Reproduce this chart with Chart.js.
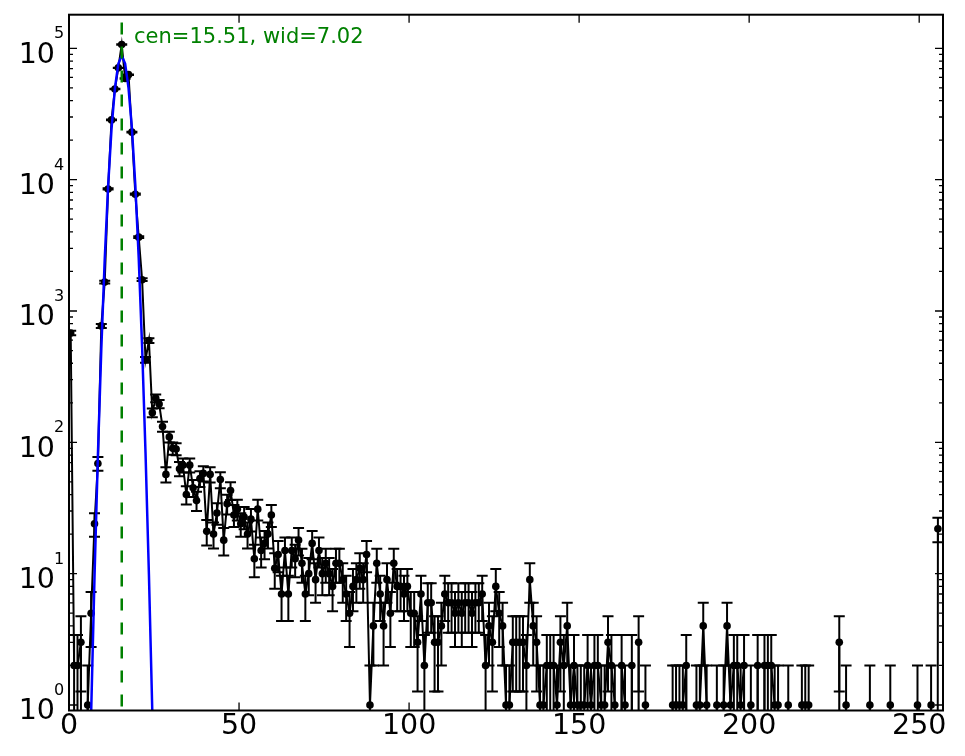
<!DOCTYPE html>
<html>
<head>
<meta charset="utf-8">
<script src="https://cdn.jsdelivr.net/npm/chart.js@4.4.1/dist/chart.umd.min.js"></script>
<style>
html,body{margin:0;padding:0;background:#fff;}
#wrap{width:965px;height:756px;position:relative;}
</style>
</head>
<body>
<div id="wrap"><canvas id="c"></canvas></div>
<script>
// ---- data ----
const binStart = 0;
const binWidth = 1;
const counts = [
  680, 2, 2, 3, 0, 1, 5, 24, 69, 770,
  1660, 8500, 28500, 49000, 71000, 107000, 59000, 63000, 23000, 7750,
  3650, 1730, 425, 596, 168, 217, 196, 132, 57, 110,
  90, 89, 63, 67, 40, 67, 45, 36, 53, 58,
  21, 57, 20, 29, 52, 18, 34, 43, 28, 31,
  24, 27, 20, 26, 13, 31, 15, 17, 20, 28,
  11, 14, 7, 15, 7, 15, 13, 18, 12, 7,
  10, 17, 9, 15, 10, 12, 10, 8, 12, 12,
  9, 7, 5, 8, 9, 11, 9, 14, 1, 4,
  12, 7, 4, 9, 5, 12, 8, 8, 7, 8,
  5, 5, 3, 7, 2, 6, 6, 3, 3, 4,
  7, 6, 6, 5, 6, 5, 6, 6, 5, 6,
  6, 7, 2, 4, 3, 8, 5, 4, 1, 1,
  3, 3, 3, 3, 2, 9, 4, 3, 1, 1,
  2, 2, 2, 1, 3, 2, 4, 1, 2, 1,
  1, 1, 2, 1, 2, 2, 1, 1, 3, 2,
  1, 0, 2, 1, 0, 2, 0, 3, 0, 1,
  0, 0, 0, 0, 0, 0, 0, 1, 1, 1,
  1, 2, 0, 0, 1, 1, 4, 1, 0, 0,
  1, 0, 1, 4, 1, 2, 2, 1, 2, 0,
  1, 0, 2, 0, 2, 2, 2, 1, 1, 0,
  0, 1, 0, 0, 0, 1, 1, 1, 0, 0,
  0, 0, 0, 0, 0, 0, 3, 0, 1, 0,
  0, 0, 0, 0, 0, 1, 0, 0, 0, 0,
  0, 1, 0, 0, 0, 0, 0, 0, 0, 1,
  0, 0, 0, 1, 0, 22
];
// Gaussian fit curve as drawn (bins 5..25)
const fitStartBin = 5;
const fitValues = [
  0.056, 0.84, 9.4, 80, 513, 2463, 8904, 24210, 49490, 76100,
  88000, 76530, 50060, 24630, 9110, 2535, 531, 83.5, 9.9, 0.88, 0.059
];
const fitCen = 15.51;
const fitWid = 7.02;
const xTicks = [0, 50, 100, 150, 200, 250];
const yDecades = [0, 1, 2, 3, 4, 5];
const xMin = 0, xMax = 257;
const yMin = 0.908, yMax = 180300;

// ---- derived structures ----
const CLIP_LOW = 1e-30; // empty bins fall off the bottom of the log axis
const binCenters = counts.map((_, i) => binStart + (i + 0.5) * binWidth);
const errors = counts.map(v => Math.sqrt(v));
const dataPoints = counts.map((v, i) => ({x: binCenters[i], y: v > 0 ? v : CLIP_LOW}));
const fitPoints = fitValues.map((v, k) => ({x: binCenters[fitStartBin + k], y: v}));
const cenLine = [{x: fitCen, y: yMin}, {x: fitCen, y: yMax}];

const FONT = 'DejaVu Sans';

const errorBarPlugin = {
  id: 'errorBars',
  beforeDatasetsDraw(chart) {
    const {ctx, chartArea: a, scales: {x, y}} = chart;
    ctx.save();
    ctx.beginPath();
    ctx.rect(a.left, a.top, a.right - a.left, a.bottom - a.top);
    ctx.clip();
    ctx.strokeStyle = '#000';
    ctx.lineWidth = 2;
    const cap = 5.5;
    counts.forEach((v, i) => {
      if (v <= 0) return;
      const e = errors[i];
      const px = x.getPixelForValue(binCenters[i]);
      const lo = v - e > 0 ? v - e : CLIP_LOW;
      const pLo = y.getPixelForValue(lo);
      const pHi = y.getPixelForValue(v + e);
      ctx.beginPath();
      ctx.moveTo(px, pLo); ctx.lineTo(px, pHi);
      ctx.moveTo(px - cap, pLo); ctx.lineTo(px + cap, pLo);
      ctx.moveTo(px - cap, pHi); ctx.lineTo(px + cap, pHi);
      ctx.stroke();
    });
    ctx.restore();
  }
};

const framePlugin = {
  id: 'frame',
  afterDatasetsDraw(chart) {
    const {ctx, chartArea: a, scales: {x, y}} = chart;
    ctx.save();
    ctx.strokeStyle = '#000';
    ctx.lineWidth = 1.3;
    ctx.beginPath();
    xTicks.forEach(v => {
      const p = x.getPixelForValue(v);
      ctx.moveTo(p, a.bottom); ctx.lineTo(p, a.bottom - 8);
      ctx.moveTo(p, a.top); ctx.lineTo(p, a.top + 8);
    });
    for (let d = -1; d <= 5; d++) {
      for (let m = 1; m <= 9; m++) {
        const v = m * Math.pow(10, d);
        if (v < yMin || v > yMax) continue;
        const p = y.getPixelForValue(v);
        const len = m === 1 ? 8 : 4;
        ctx.moveTo(a.left, p); ctx.lineTo(a.left + len, p);
        ctx.moveTo(a.right, p); ctx.lineTo(a.right - len, p);
      }
    }
    ctx.stroke();
    ctx.lineWidth = 2;
    ctx.strokeRect(a.left, a.top, a.right - a.left, a.bottom - a.top);
    ctx.restore();
  },
  afterDraw(chart) {
    const {ctx, scales: {x, y}} = chart;
    ctx.save();
    ctx.fillStyle = '#000';
    ctx.font = '16px "' + FONT + '"';
    ctx.textAlign = 'left';
    ctx.textBaseline = 'alphabetic';
    yDecades.forEach(d => {
      const p = y.getPixelForValue(Math.pow(10, d));
      ctx.fillText(String(d), 54, p - 10);
    });
    ctx.fillStyle = '#008000';
    ctx.font = '21px "' + FONT + '"';
    ctx.fillText('cen=' + fitCen.toFixed(2) + ', wid=' + fitWid.toFixed(2),
                 x.getPixelForValue(fitCen) + 12.3, 43.3);
    ctx.restore();
  }
};

function noPad(s) {
  s.paddingTop = 0; s.paddingBottom = 0; s.paddingLeft = 0; s.paddingRight = 0;
}

new Chart(document.getElementById('c'), {
  type: 'line',
  data: {
    datasets: [
      {
        label: 'cen',
        data: cenLine,
        borderColor: '#008000',
        borderWidth: 2.5,
        borderDash: [12, 12],
        borderDashOffset: 20,
        pointRadius: 0,
        clip: 0,
        order: 1
      },
      {
        label: 'fit',
        data: fitPoints,
        borderColor: '#0000ff',
        borderWidth: 2.5,
        pointRadius: 0,
        tension: 0,
        clip: 0,
        order: 2
      },
      {
        label: 'counts',
        data: dataPoints,
        borderColor: '#000',
        borderWidth: 2,
        pointRadius: c => (counts[c.dataIndex] > 0 ? 3.8 : 0),
        pointBackgroundColor: '#000',
        pointBorderColor: '#000',
        pointBorderWidth: 0,
        tension: 0,
        clip: 0,
        order: 3
      }
    ]
  },
  options: {
    responsive: true,
    maintainAspectRatio: false,
    animation: false,
    devicePixelRatio: 1,
    layout: {padding: {left: 0, top: 14.7, right: 22, bottom: 0}},
    plugins: {legend: {display: false}, tooltip: {enabled: false}},
    scales: {
      x: {
        type: 'linear', min: xMin, max: xMax,
        grid: {display: false, drawTicks: false},
        border: {display: false},
        afterBuildTicks: s => { s.ticks = xTicks.map(v => ({value: v})); },
        afterFit: s => { s.height = 45.5; noPad(s); },
        ticks: {font: {family: FONT, size: 28.5}, color: '#000', padding: -1, maxRotation: 0, autoSkip: false}
      },
      y: {
        type: 'logarithmic', min: yMin, max: yMax,
        grid: {display: false, drawTicks: false},
        border: {display: false},
        afterBuildTicks: s => { s.ticks = yDecades.map(d => ({value: Math.pow(10, d)})); },
        afterFit: s => { s.width = 69; noPad(s); },
        ticks: {font: {family: FONT, size: 28.5}, color: '#000', padding: 14, labelOffset: 7, autoSkip: false,
                callback: () => '10'}
      }
    }
  },
  plugins: [errorBarPlugin, framePlugin]
});
</script>
</body>
</html>
